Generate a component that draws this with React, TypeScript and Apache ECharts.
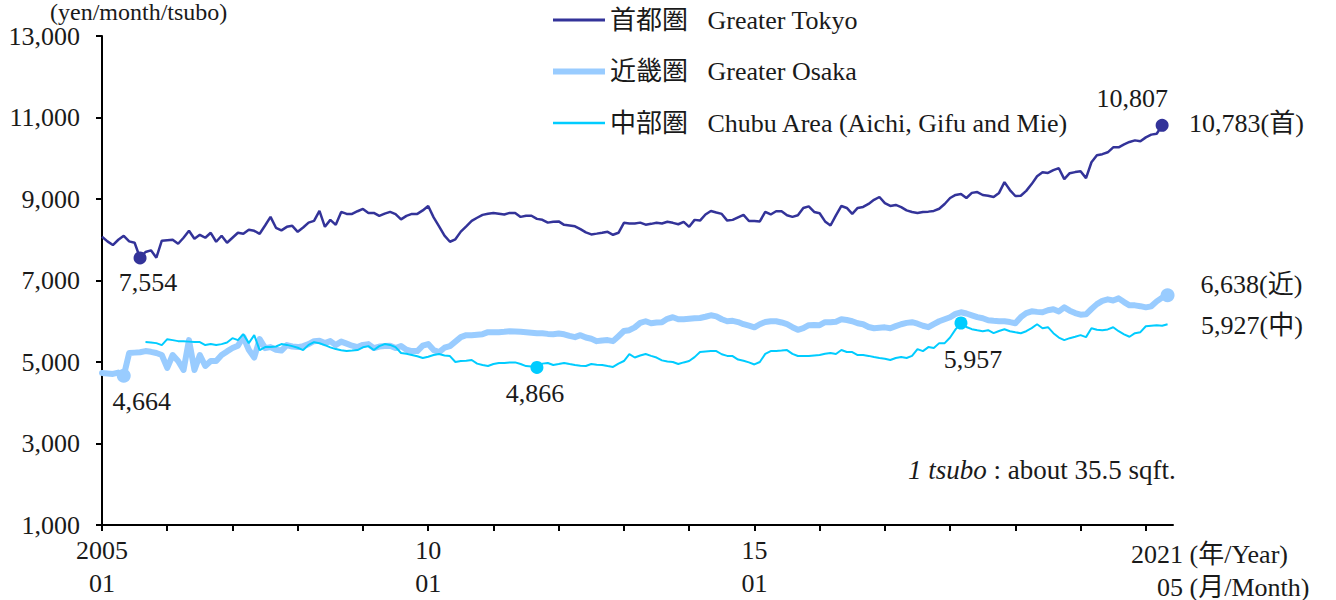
import React, { useEffect, useRef } from "react";
import * as echarts from "echarts";

const FONT = "'Liberation Serif', 'Noto Sans CJK JP', serif";
const TEXT_COLOR = "#1a1a1a";
const C_TOKYO = "#333399";
const C_OSAKA = "#99ccff";
const C_CHUBU = "#00ccff";

// Monthly categories 2005/01 .. 2021/06 (last one blank, axis end)
const months: string[] = [];
for (let y = 2005; y <= 2021; y++) {
  for (let m = 1; m <= 12; m++) {
    if (y === 2021 && m > 6) break;
    months.push(`${y}/${m < 10 ? "0" + m : m}`);
  }
}

const seriesNames = [
  "首都圏\u00A0\u00A0\u00A0Greater Tokyo",
  "近畿圏\u00A0\u00A0\u00A0Greater Osaka",
  "中部圏\u00A0\u00A0\u00A0Chubu Area (Aichi, Gifu and Mie)",
];

const tokyo: number[] = [
  8073, 7960, 7870, 8000, 8098, 7960, 7927, 7554, 7700, 7740, 7561, 7976,
  7990, 8000, 7902, 8050, 8220, 8024, 8122, 8049, 8171, 7951, 8098, 7927,
  8050, 8171, 8146, 8244, 8220, 8146, 8350, 8561, 8293, 8230, 8317, 8342,
  8195, 8300, 8420, 8463, 8707, 8317, 8488, 8366, 8683, 8634, 8634, 8700,
  8756, 8659, 8659, 8585, 8640, 8683, 8630, 8500, 8585, 8634, 8634, 8720,
  8829, 8550, 8330, 8100, 7951, 8010, 8200, 8330, 8463, 8540, 8610, 8640,
  8659, 8640, 8620, 8659, 8659, 8561, 8590, 8590, 8512, 8490, 8420, 8440,
  8450, 8366, 8350, 8330, 8260, 8180, 8130, 8150, 8171, 8195, 8122, 8171,
  8415, 8400, 8400, 8420, 8370, 8390, 8415, 8400, 8440, 8415, 8380, 8440,
  8317, 8488, 8470, 8620, 8707, 8670, 8634, 8470, 8488, 8550, 8610, 8460,
  8463, 8450, 8683, 8620, 8700, 8700, 8600, 8561, 8600, 8780, 8820, 8683,
  8650, 8450, 8350, 8600, 8829, 8780, 8634, 8781, 8805, 8880, 8980, 9049,
  8900, 8830, 8854, 8800, 8720, 8680, 8659, 8683, 8690, 8707, 8760, 8878,
  9024, 9100, 9122, 9024, 9150, 9171, 9098, 9080, 9049, 9150, 9415, 9220,
  9073, 9080, 9200, 9366, 9560, 9659, 9640, 9707, 9756, 9488, 9634, 9660,
  9683, 9512, 9902, 10073, 10100, 10146, 10268, 10268, 10341, 10400, 10439, 10415,
  10512, 10580, 10600, 10807, 10783,
];

const osaka: number[] = [
  4732, 4720, 4707, 4740, 4664, 5220, 5230, 5240, 5268, 5250, 5220, 5171,
  4854, 5171, 5024, 4805, 5537, 4805, 5171, 4902, 5024, 5024, 5171, 5260,
  5342, 5400, 5620, 5300, 5110, 5560, 5340, 5366, 5300, 5280, 5415, 5380,
  5366, 5390, 5440, 5512, 5520, 5463, 5512, 5415, 5500, 5450, 5400, 5366,
  5420, 5439, 5342, 5380, 5390, 5400, 5342, 5390, 5300, 5268, 5268, 5400,
  5440, 5293, 5244, 5350, 5390, 5500, 5610, 5659, 5659, 5670, 5683, 5732,
  5732, 5732, 5740, 5756, 5750, 5740, 5732, 5720, 5707, 5707, 5690, 5683,
  5700, 5680, 5640, 5610, 5659, 5600, 5570, 5512, 5530, 5537, 5512, 5634,
  5760, 5780, 5850, 5960, 6000, 5951, 5970, 5976, 6060, 6098, 6049, 6049,
  6060, 6073, 6080, 6110, 6146, 6120, 6049, 6000, 6010, 5980, 5927, 5890,
  5850, 5927, 5980, 6000, 6000, 5970, 5927, 5854, 5790, 5830, 5903, 5910,
  5903, 5976, 5976, 5990, 6049, 6030, 6000, 5950, 5927, 5860, 5829, 5840,
  5850, 5829, 5880, 5927, 5960, 5976, 5940, 5890, 5854, 5930, 6000, 6049,
  6098, 6180, 6220, 6190, 6146, 6100, 6073, 6024, 6010, 6000, 6000, 5980,
  5951, 6100, 6200, 6244, 6230, 6220, 6270, 6293, 6240, 6341, 6260, 6200,
  6160, 6171, 6300, 6420, 6500, 6537, 6510, 6561, 6470, 6390, 6390, 6370,
  6341, 6366, 6488, 6580, 6638,
];

const chubu: (number | null)[] = [
  null, null, null, null, null, null, null, null, 5488, 5480, 5463, 5415,
  5560, 5537, 5512, 5512, 5500, 5488, 5488, 5415, 5440, 5415, 5439, 5480,
  5585, 5537, 5683, 5463, 5659, 5293, 5366, 5366, 5380, 5439, 5420, 5390,
  5350, 5293, 5420, 5488, 5460, 5415, 5360, 5317, 5290, 5268, 5280, 5293,
  5360, 5390, 5293, 5390, 5439, 5420, 5366, 5220, 5200, 5171, 5140, 5098,
  5130, 5171, 5195, 5160, 5146, 5000, 5024, 5030, 5049, 4960, 4927, 4902,
  4950, 4976, 4976, 4990, 4990, 4950, 4900, 4890, 4866, 4960, 4976, 4927,
  4950, 4976, 4950, 4927, 4910, 4902, 4951, 4930, 4927, 4900, 4878, 4960,
  5024, 5195, 5110, 5160, 5195, 5150, 5110, 5040, 5010, 5000, 4951, 4990,
  5024, 5120, 5244, 5260, 5268, 5268, 5190, 5150, 5146, 5060, 5030, 4990,
  4940, 5000, 5200, 5268, 5268, 5280, 5293, 5200, 5146, 5146, 5146, 5160,
  5171, 5200, 5220, 5195, 5293, 5244, 5244, 5171, 5171, 5150, 5122, 5098,
  5080, 5049, 5098, 5122, 5098, 5150, 5317, 5268, 5366, 5342, 5463, 5463,
  5600, 5800, 5957, 5860, 5805, 5780, 5756, 5780, 5707, 5760, 5805, 5756,
  5730, 5707, 5756, 5830, 5927, 5829, 5854, 5707, 5600, 5537, 5585, 5620,
  5659, 5610, 5829, 5790, 5780, 5800, 5854, 5756, 5680, 5620, 5707, 5732,
  5878, 5890, 5900, 5890, 5927,
];

// x-axis labels
const xLabelIndex = [0, 60, 120];
const xLabelYear = ["2005", "10", "15"];
const xLabelMonth = ["01", "01", "01"];
const lastYearLabel = "2021 (年/Year)";
const lastMonthLabel = "05 (月/Month)";
const unitLabel = "(yen/month/tsubo)";

const fmt = (v: number) => v.toLocaleString("en-US");

const LAST = 196;
const TOKYO_MIN = 7;
const TOKYO_MAX = 195;
const OSAKA_MIN = 4;
const CHUBU_MIN = 80;
const CHUBU_MAX = 158;

const labelBase = {
  show: true,
  fontSize: 26,
  fontFamily: FONT,
  color: TEXT_COLOR,
};

export default function App() {
  const ref = useRef<HTMLDivElement>(null);

  useEffect(() => {
    document.body.style.margin = "0";
    if (!ref.current) return;
    const chart = echarts.init(ref.current, null, { renderer: "svg" });

    const option: any = {
      animation: false,
      backgroundColor: "#ffffff",
      textStyle: { fontFamily: FONT },
      grid: { left: 102, top: 36, width: 1071, height: 492, containLabel: false },
      legend: {
        orient: "vertical",
        left: 553,
        top: 7,
        padding: 0,
        itemGap: 25.5,
        itemWidth: 52,
        itemHeight: 26,
        symbolKeepAspect: true,
        selectedMode: false,
        textStyle: { fontSize: 26, fontFamily: FONT, color: TEXT_COLOR },
        data: [
          { name: seriesNames[0], icon: "path://M0,0H52V3H0Z", itemStyle: { color: C_TOKYO } },
          { name: seriesNames[1], icon: "path://M0,0H52V6H0Z", itemStyle: { color: C_OSAKA } },
          { name: seriesNames[2], icon: "path://M0,0H52V2.5H0Z", itemStyle: { color: C_CHUBU } },
        ],
      },
      xAxis: {
        type: "category",
        data: months,
        boundaryGap: false,
        axisLine: { show: true, lineStyle: { color: "#000", width: 2 } },
        axisTick: {
          show: true,
          length: 6,
          lineStyle: { color: "#000", width: 2 },
          interval: (i: number) => i % 12 === 0,
        },
        axisLabel: {
          show: true,
          margin: 9,
          interval: (i: number) => xLabelIndex.indexOf(i) >= 0,
          formatter: (_v: string, i: number) => {
            const k = xLabelIndex.indexOf(i);
            return k >= 0 ? `${xLabelYear[k]}\n${xLabelMonth[k]}` : "";
          },
          fontSize: 26,
          lineHeight: 33,
          fontFamily: FONT,
          color: TEXT_COLOR,
        },
        splitLine: { show: false },
      },
      yAxis: {
        type: "value",
        min: 1000,
        max: 13000,
        interval: 2000,
        axisLine: { show: true, lineStyle: { color: "#000", width: 2 } },
        axisTick: { show: true, length: 6, lineStyle: { color: "#000", width: 2 } },
        axisLabel: {
          margin: 22,
          fontSize: 26,
          fontFamily: FONT,
          color: TEXT_COLOR,
          formatter: (v: number) => fmt(v),
        },
        splitLine: { show: false },
      },
      series: [
        {
          name: seriesNames[0],
          type: "line",
          data: tokyo,
          symbol: "none",
          color: C_TOKYO,
          lineStyle: { width: 2.5, color: C_TOKYO },
          z: 3,
          markPoint: {
            data: [
              {
                coord: [months[TOKYO_MIN], tokyo[TOKYO_MIN]],
                symbol: "circle",
                symbolSize: 13,
                itemStyle: { color: C_TOKYO },
                label: { ...labelBase, position: "bottom", distance: 5, offset: [8, 0], formatter: fmt(tokyo[TOKYO_MIN]) },
              },
              {
                coord: [months[TOKYO_MAX], tokyo[TOKYO_MAX]],
                symbol: "circle",
                symbolSize: 13,
                itemStyle: { color: C_TOKYO },
                label: { ...labelBase, position: "top", distance: 5, offset: [-30, -2], formatter: fmt(tokyo[TOKYO_MAX]) },
              },
              {
                coord: [months[LAST], tokyo[LAST]],
                symbol: "circle",
                symbolSize: 1,
                itemStyle: { color: "rgba(0,0,0,0)" },
                label: { ...labelBase, position: "right", distance: 5, offset: [16, -3], formatter: fmt(tokyo[LAST]) + "(首)" },
              },
            ],
          },
        },
        {
          name: seriesNames[1],
          type: "line",
          data: osaka,
          symbol: "none",
          color: C_OSAKA,
          lineStyle: { width: 6, color: C_OSAKA, cap: "round", join: "round" },
          z: 2,
          markPoint: {
            data: [
              {
                coord: [months[OSAKA_MIN], osaka[OSAKA_MIN]],
                symbol: "circle",
                symbolSize: 14,
                itemStyle: { color: C_OSAKA },
                label: { ...labelBase, position: "bottom", distance: 5, offset: [18, 1], formatter: fmt(osaka[OSAKA_MIN]) },
              },
              {
                coord: [months[LAST], osaka[LAST]],
                symbol: "circle",
                symbolSize: 14,
                itemStyle: { color: C_OSAKA },
                label: { ...labelBase, position: "right", distance: 5, offset: [21, -11], formatter: fmt(osaka[LAST]) + "(近)" },
              },
            ],
          },
        },
        {
          name: seriesNames[2],
          type: "line",
          data: chubu,
          symbol: "none",
          color: C_CHUBU,
          lineStyle: { width: 2, color: C_CHUBU },
          z: 4,
          markPoint: {
            data: [
              {
                coord: [months[CHUBU_MIN], chubu[CHUBU_MIN]],
                symbol: "circle",
                symbolSize: 13,
                itemStyle: { color: C_CHUBU },
                label: { ...labelBase, position: "bottom", distance: 5, offset: [-2, 2], formatter: fmt(chubu[CHUBU_MIN] as number) },
              },
              {
                coord: [months[CHUBU_MAX], chubu[CHUBU_MAX]],
                symbol: "circle",
                symbolSize: 13,
                itemStyle: { color: C_CHUBU },
                label: { ...labelBase, position: "bottom", distance: 5, offset: [12, 12], formatter: fmt(chubu[CHUBU_MAX] as number) },
              },
              {
                coord: [months[LAST], chubu[LAST]],
                symbol: "circle",
                symbolSize: 1,
                itemStyle: { color: "rgba(0,0,0,0)" },
                label: { ...labelBase, position: "right", distance: 5, offset: [28, 1], formatter: fmt(chubu[LAST] as number) + "(中)" },
              },
            ],
          },
        },
      ],
      graphic: [
        {
          type: "text",
          left: 50,
          top: 0,
          style: { text: unitLabel, fontSize: 24, fontFamily: FONT, fill: TEXT_COLOR },
        },
        {
          type: "text",
          x: 1131,
          y: 554,
          style: {
            text: lastYearLabel,
            fontSize: 26,
            fontFamily: FONT,
            fill: TEXT_COLOR,
            align: "left",
            verticalAlign: "middle",
            textAlign: "left",
            textVerticalAlign: "middle",
          },
        },
        {
          type: "text",
          x: 1157,
          y: 587,
          style: {
            text: lastMonthLabel,
            fontSize: 26,
            fontFamily: FONT,
            fill: TEXT_COLOR,
            align: "left",
            verticalAlign: "middle",
            textAlign: "left",
            textVerticalAlign: "middle",
          },
        },
        {
          type: "text",
          x: 908,
          y: 470,
          style: {
            text: "{i|1 tsubo} : about 35.5 sqft.",
            fontSize: 27,
            fontFamily: FONT,
            fill: TEXT_COLOR,
            align: "left",
            verticalAlign: "middle",
            textAlign: "left",
            textVerticalAlign: "middle",
            rich: { i: { fontStyle: "italic", fontSize: 27, fontFamily: FONT, fill: TEXT_COLOR, color: TEXT_COLOR } },
          },
        },
      ],
    };

    chart.setOption(option);
    return () => {
      chart.dispose();
    };
  }, []);

  return <div ref={ref} style={{ width: 1336, height: 600 }} />;
}
